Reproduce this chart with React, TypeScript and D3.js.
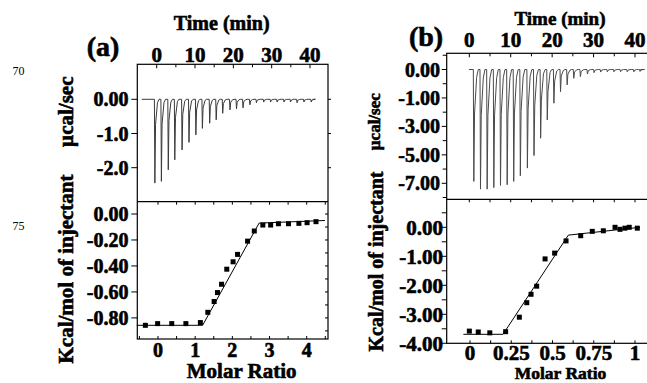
import React from 'react';
import * as d3 from 'd3';

// ---------- data ----------
const timeTicks = [0, 10, 20, 30, 40];

// panel (a) raw thermogram: injection times (min) and peak heights (µcal/sec)
const injTimesA = [-0.6, 1.1, 2.9, 4.6, 6.5, 8.3, 10.1, 11.8, 13.7, 15.4, 17.1, 19.0, 20.7, 22.4, 24.2, 25.9, 27.8, 29.6, 31.3, 33.1, 34.8, 36.5, 38.3, 40.2];
const peakA = [-2.45, -2.4, -2.06, -1.77, -1.48, -1.26, -1.04, -0.85, -0.7, -0.6, -0.41, -0.31, -0.28, -0.25, -0.16, -0.1, -0.08, -0.08, -0.08, -0.08, -0.08, -0.1, -0.08, -0.08];
// panel (a) integrated heats
const molarA = [-0.34, -0.01, 0.37, 0.75, 1.14, 1.34, 1.51, 1.6, 1.71, 1.85, 2.02, 2.14, 2.41, 2.59, 2.82, 3.03, 3.24, 3.51, 3.79, 4.01, 4.25];
const heatA = [-0.857, -0.844, -0.844, -0.844, -0.836, -0.757, -0.674, -0.605, -0.541, -0.425, -0.368, -0.311, -0.209, -0.131, -0.085, -0.085, -0.075, -0.075, -0.072, -0.067, -0.059];
const fitXA = [-0.57, 1.2, 2.72, 4.49];
const fitYA = [-0.857, -0.857, -0.07, -0.05];
const yTopTicksA = [0, -1, -2];
const yTopLabelsA = ['0.00', '-1.0', '-2.0'];
const yBotTicksA = [0, -0.2, -0.4, -0.6, -0.8];
const yBotLabelsA = ['0.00', '-0.20', '-0.40', '-0.60', '-0.80'];
const molarTicksA = [0, 1, 2, 3, 4];

// panel (b)
const injTimesB = [0.97, 2.58, 4.19, 5.8, 7.41, 9.02, 10.6, 12.2, 13.9, 15.5, 17.1, 18.7, 20.3, 21.9, 23.5, 25.1, 26.7, 28.4, 30.0, 31.6, 33.2, 34.8, 36.4, 38.0, 39.6, 41.1];
const peakB = [-6.87, -7.41, -7.41, -7.3, -7.15, -7.1, -6.87, -6.47, -5.93, -5.05, -3.83, -2.54, -1.37, -0.78, -0.54, -0.31, -0.25, -0.16, -0.11, -0.09, -0.08, -0.08, -0.08, -0.08, -0.08, -0.07];
const molarB = [-0.004, 0.05, 0.12, 0.216, 0.299, 0.344, 0.37, 0.404, 0.455, 0.513, 0.582, 0.671, 0.741, 0.808, 0.879, 0.909, 0.939, 0.965, 1.014];
const heatB = [-3.58, -3.61, -3.64, -3.6, -3.1, -2.6, -2.31, -2.03, -1.09, -0.89, -0.47, -0.29, -0.14, -0.12, 0.0, -0.07, -0.03, 0.0, -0.03];
const fitXB = [-0.04, 0.2, 0.596, 1.03];
const fitYB = [-3.69, -3.69, -0.27, 0.0];
const yTopTicksB = [0, -1, -3, -5, -7];
const yTopLabelsB = ['0.00', '-1.00', '-3.00', '-5.00', '-7.00'];
const yBotTicksB = [0, -1, -2, -3, -4];
const yBotLabelsB = ['0.00', '-1.00', '-2.00', '-3.00', '-4.00'];
const molarTicksB = [0, 0.25, 0.5, 0.75, 1];
const molarLabelsB = ['0', '0.25', '0.5', '0.75', '1'];

// ---------- layout ----------
const FONT = '"Liberation Serif", "Times New Roman", serif';
const A = { left: 137.3, right: 328, top: 64.3, mid: 201.7, bottom: 339 };
const B = { left: 446.7, right: 652, top: 53.3, mid: 199.3, bottom: 343.3 };

const xTimeA = d3.scaleLinear().domain([0, 40]).range([156.7, 310]);
const yTopA = d3.scaleLinear().domain([0, -2]).range([99.3, 167.7]);
const xMolA = d3.scaleLinear().domain([0, 4]).range([158, 306.7]);
const yBotA = d3.scaleLinear().domain([0, -0.8]).range([214, 317.9]);

const xTimeB = d3.scaleLinear().domain([0, 40]).range([469.3, 635]);
const yTopB = d3.scaleLinear().domain([1, 0, -1, -3, -5, -7, -9]).range([41.05, 69.5, 97.95, 126.4, 154.85, 183.3, 211.75]);
const xMolB = d3.scaleLinear().domain([0, 1]).range([470, 635]);
const yBotB = d3.scaleLinear().domain([0, -4]).range([227.3, 343.3]);

function thermogram(times: number[], peaks: number[], t0: number, t1: number, x: any, y: any) {
  const pts: [number, number][] = [[x(t0), y(0)]];
  times.forEach((t, i) => {
    const d = peaks[i];
    pts.push([x(t), y(0)]);
    pts.push([x(t + 0.12), y(d)]);
    pts.push([x(t + 0.3), y(d * 0.3)]);
    pts.push([x(t + 0.8), y(d * 0.04)]);
    pts.push([x(t + 1.2), y(0)]);
  });
  pts.push([x(t1), y(0)]);
  return d3.line()(pts) as string;
}

const range = (a: number, b: number, s: number) => d3.range(a, b + s / 2, s);

export default function App() {
  const line = d3.line<[number, number]>();
  const fitA = line(fitXA.map((v, i) => [xMolA(v), yBotA(fitYA[i])]))!;
  const fitB = line(fitXB.map((v, i) => [xMolB(v), yBotB(fitYB[i])]))!;
  const thermoA = thermogram(injTimesA, peakA, -3.9, 40.7, xTimeA, yTopA);
  const thermoB = thermogram(injTimesB, peakB, -0.1, 41.3, xTimeB, yTopB);
  const sq = 5;
  const tick = { stroke: '#000', strokeWidth: 1 };
  const bold = { fontFamily: FONT, fontWeight: 700 as const, fill: '#000', stroke: '#000', strokeWidth: 0.6 };

  return (
    <svg width={647} height={383} style={{ position: 'absolute', left: 0, top: 0, background: '#fff' }}>
      <rect x={0} y={0} width={647} height={383} fill="#fff" />
      {/* line numbers */}
      <text x={12.5} y={75} fontFamily={FONT} fontSize={12}>70</text>
      <text x={12.5} y={229.5} fontFamily={FONT} fontSize={12}>75</text>

      {/* ===== panel (a) ===== */}
      <text x={103} y={56} textAnchor="middle" fontSize={28} {...bold}>(a)</text>
      <text x={221.7} y={30} textAnchor="middle" fontSize={20} {...bold}>Time (min)</text>
      {timeTicks.map(t => (
        <text key={'ta' + t} x={xTimeA(t)} y={61.5} textAnchor="middle" fontSize={21} {...bold}>{t}</text>
      ))}
      <rect x={A.left} y={A.top} width={A.right - A.left} height={A.bottom - A.top} fill="none" stroke="#000" strokeWidth={1.2} />
      <line x1={A.left} x2={A.right} y1={A.mid} y2={A.mid} stroke="#000" strokeWidth={1.2} />
      {range(0, 40, 5).map(t => (
        <line key={'tka' + t} x1={xTimeA(t)} x2={xTimeA(t)} y1={A.top} y2={A.top + (t % 10 === 0 ? 4 : 3)} {...tick} />
      ))}
      {yTopTicksA.map((v, i) => (
        <g key={'yta' + v}>
          <line x1={A.left - 6} x2={A.left} y1={yTopA(v)} y2={yTopA(v)} {...tick} />
          <line x1={A.right} x2={A.right + 3} y1={yTopA(v)} y2={yTopA(v)} {...tick} />
          <text x={128.5} y={yTopA(v)} dy="0.35em" textAnchor="end" fontSize={20} {...bold}>{yTopLabelsA[i]}</text>
        </g>
      ))}
      <path d={thermoA} fill="none" stroke="#3a3a3a" strokeWidth={1} />
      {range(0, 4.5, 0.5).map(m => (
        <line key={'dma' + m} x1={xMolA(m)} x2={xMolA(m)} y1={A.mid} y2={A.mid + 3} {...tick} />
      ))}
      {yBotTicksA.map((v, i) => (
        <g key={'yba' + v}>
          <line x1={A.left - 6} x2={A.left} y1={yBotA(v)} y2={yBotA(v)} {...tick} />
          <text x={128.5} y={yBotA(v)} dy="0.35em" textAnchor="end" fontSize={20} {...bold}>{yBotLabelsA[i]}</text>
        </g>
      ))}
      {range(-0.9, 0, 0.1).map(v => (
        <line key={'yra' + v} x1={A.right - 3} x2={A.right} y1={yBotA(v)} y2={yBotA(v)} {...tick} />
      ))}
      {range(-0.5, 4.5, 0.5).map(m => (
        <line key={'bma' + m} x1={xMolA(m)} x2={xMolA(m)} y1={A.bottom} y2={A.bottom - 3} {...tick} />
      ))}
      <path d={fitA} fill="none" stroke="#000" strokeWidth={1} />
      {molarA.map((m, i) => (
        <rect key={'pa' + i} x={xMolA(m) - sq / 2} y={yBotA(heatA[i]) - sq / 2} width={sq} height={sq} fill="#000" />
      ))}
      {molarTicksA.map(m => (
        <text key={'mla' + m} x={xMolA(m)} y={356.7} textAnchor="middle" fontSize={20} {...bold}>{m}</text>
      ))}
      <text x={241.7} y={378} textAnchor="middle" fontSize={21} {...bold}>Molar Ratio</text>
      <text transform="translate(66,111.7) rotate(-90)" textAnchor="middle" dominantBaseline="central" fontSize={21} {...bold}>µcal/sec</text>
      <text transform="translate(66,269) rotate(-90)" textAnchor="middle" dominantBaseline="central" fontSize={21} {...bold}>Kcal/mol of injectant</text>

      {/* ===== panel (b) ===== */}
      <text x={426} y={46} textAnchor="middle" fontSize={28} {...bold}>(b)</text>
      <text x={560} y={25} textAnchor="middle" fontSize={19} {...bold}>Time (min)</text>
      {timeTicks.map(t => (
        <text key={'tb' + t} x={xTimeB(t)} y={46.7} textAnchor="middle" fontSize={21} {...bold}>{t}</text>
      ))}
      <rect x={B.left} y={B.top} width={B.right - B.left} height={B.bottom - B.top} fill="none" stroke="#000" strokeWidth={1.2} />
      <line x1={B.left} x2={B.right} y1={B.mid} y2={B.mid} stroke="#000" strokeWidth={1.2} />
      {range(0, 45, 5).map(t => (
        <line key={'tkb' + t} x1={xTimeB(t)} x2={xTimeB(t)} y1={B.top} y2={B.top + (t % 10 === 0 ? 4 : 3)} {...tick} />
      ))}
      {yTopTicksB.map((v, i) => (
        <g key={'ytb' + v}>
          <line x1={B.left - 5} x2={B.left} y1={yTopB(v)} y2={yTopB(v)} {...tick} />
          <text x={440} y={yTopB(v)} dy="0.35em" textAnchor="end" fontSize={20} {...bold}>{yTopLabelsB[i]}</text>
        </g>
      ))}
      {[0.5, -0.5, -2, -4, -6, -8].map(v => (
        <line key={'ytmb' + v} x1={B.left - 4} x2={B.left} y1={yTopB(v)} y2={yTopB(v)} {...tick} />
      ))}
      <path d={thermoB} fill="none" stroke="#4a4a4a" strokeWidth={1} />
      {range(0, 45, 5).map(t => (
        <line key={'dmb' + t} x1={xTimeB(t)} x2={xTimeB(t)} y1={B.mid} y2={B.mid + 3} {...tick} />
      ))}
      {range(-4, 0.5, 0.5).map(v => (
        <line key={'ybb' + v} x1={B.left - 5} x2={B.left} y1={yBotB(v)} y2={yBotB(v)} {...tick} />
      ))}
      {yBotTicksB.map((v, i) => (
        <text key={'yblb' + v} x={443} y={yBotB(v)} dy="0.35em" textAnchor="end" fontSize={21} {...bold}>{yBotLabelsB[i]}</text>
      ))}
      {range(0, 1.125, 0.125).map(m => (
        <line key={'bmb' + m} x1={xMolB(m)} x2={xMolB(m)} y1={B.bottom} y2={B.bottom - 3} {...tick} />
      ))}
      <path d={fitB} fill="none" stroke="#000" strokeWidth={1} />
      {molarB.map((m, i) => (
        <rect key={'pb' + i} x={xMolB(m) - sq / 2} y={yBotB(heatB[i]) - sq / 2} width={sq} height={sq} fill="#000" />
      ))}
      {molarTicksB.map((m, i) => (
        <text key={'mlb' + m} x={xMolB(m)} y={359.5} textAnchor="middle" fontSize={21} {...bold}>{molarLabelsB[i]}</text>
      ))}
      <text x={560.5} y={379} textAnchor="middle" fontSize={17.5} {...bold}>Molar Ratio</text>
      <text transform="translate(374,121.7) rotate(-90)" textAnchor="middle" dominantBaseline="central" fontSize={17} {...bold}>µcal/sec</text>
      <text transform="translate(375.5,261.5) rotate(-90)" textAnchor="middle" dominantBaseline="central" fontSize={20} {...bold}>Kcal/mol of injectant</text>
    </svg>
  );
}
